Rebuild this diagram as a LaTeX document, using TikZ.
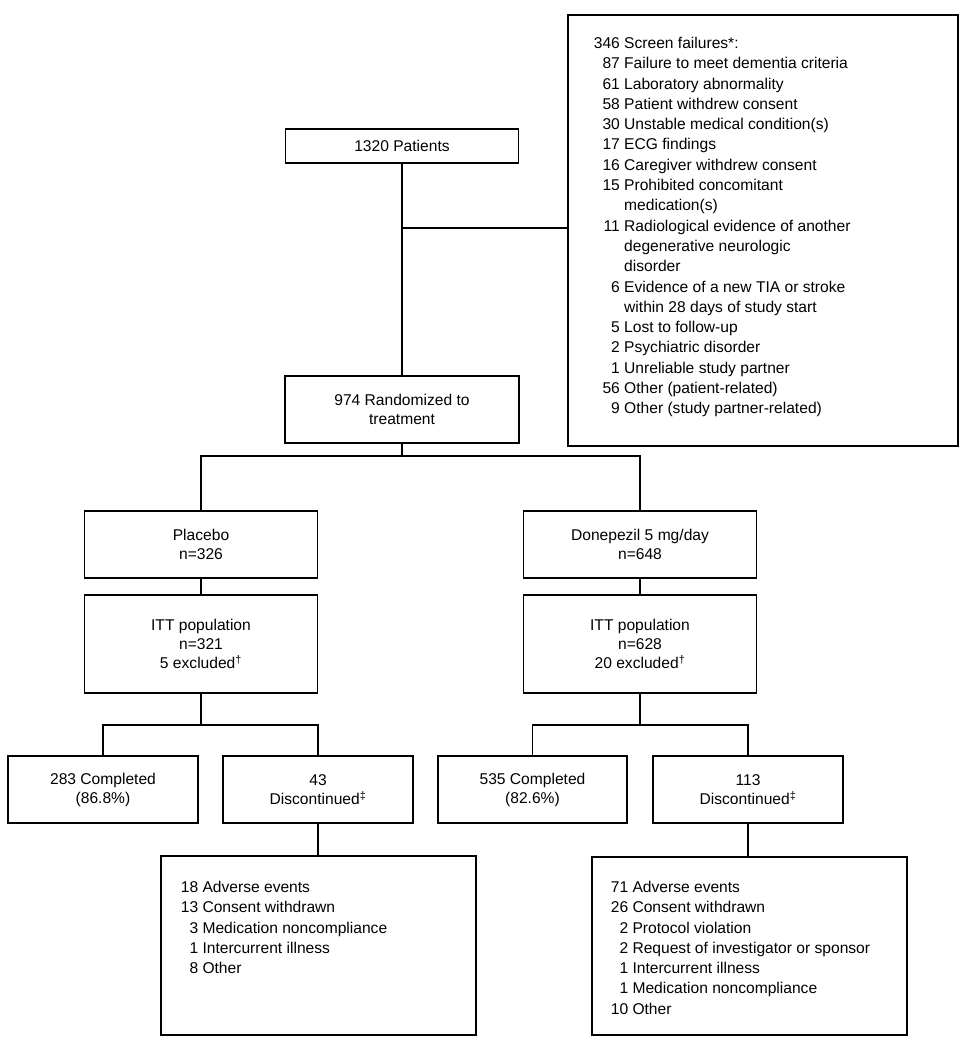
\documentclass[tikz,border=0pt]{standalone}
\usepackage{fontspec}
\setmainfont{Liberation Sans}
\usetikzlibrary{positioning}

\newcommand{\reasonlist}[5]{\parbox[c][#2][t]{#1}{\vspace*{#4}\begin{tabular}{@{\hspace{#3}}r@{\ }l@{}}#5\end{tabular}}}

\begin{document}
\begin{tikzpicture}[x=1pt,y=-1pt,line width=1.7pt,
  box/.style={draw,align=center,inner sep=0pt,font=\fontsize{15.6}{19}\selectfont},
  list/.style={draw,inner sep=0pt,anchor=north west,font=\fontsize{15.6}{20.3}\selectfont}]
\useasboundingbox (0,0) rectangle (968,1050);
\node[box,minimum width=233,minimum height=34] (pat) at (402,146) {1320 Patients};
\node[box,minimum width=234,minimum height=67] (rand) at (402,409.5) {974 Randomized to\\treatment};
\node[list] (scr) at (567,14) {\reasonlist{390pt}{431pt}{26pt}{19.4pt}{%
  346 & Screen failures*:\\
  87 & Failure to meet dementia criteria\\
  61 & Laboratory abnormality\\
  58 & Patient withdrew consent\\
  30 & Unstable medical condition(s)\\
  17 & ECG findings\\
  16 & Caregiver withdrew consent\\
  15 & Prohibited concomitant\\
     & medication(s)\\
  11 & Radiological evidence of another\\
     & degenerative neurologic\\
     & disorder\\
  6 & Evidence of a new TIA or stroke\\
    & within 28 days of study start\\
  5 & Lost to follow-up\\
  2 & Psychiatric disorder\\
  1 & Unreliable study partner\\
  56 & Other (patient-related)\\
  9 & Other (study partner-related)}};
\node[box,minimum width=233,minimum height=67] (plac) at (201,544.5) {Placebo\\n=326};
\node[box,minimum width=233,minimum height=67] (don) at (640,544.5) {Donepezil 5 mg/day\\n=648};
\node[box,minimum width=233,minimum height=98] (itp) at (201,644) {ITT population\\n=321\\5 excluded\textsuperscript{†}};
\node[box,minimum width=233,minimum height=98] (itd) at (640,644) {ITT population\\n=628\\20 excluded\textsuperscript{†}};
\node[box,minimum width=190,minimum height=67] (cpp) at (103,789.5) {283 Completed\\(86.8\%)};
\node[box,minimum width=190,minimum height=67] (dcp) at (318,789.5) {43\\Discontinued\textsuperscript{‡}};
\node[box,minimum width=189,minimum height=67] (cpd) at (532.5,789.5) {535 Completed\\(82.6\%)};
\node[box,minimum width=190,minimum height=67] (dcd) at (748,789.5) {113\\Discontinued\textsuperscript{‡}};
\node[list] (rsp) at (160,855) {\reasonlist{315pt}{179pt}{20pt}{22.4pt}{%
  18 & Adverse events\\
  13 & Consent withdrawn\\
  3 & Medication noncompliance\\
  1 & Intercurrent illness\\
  8 & Other}};
\node[list] (rsd) at (591,856) {\reasonlist{315pt}{178pt}{19pt}{21.4pt}{%
  71 & Adverse events\\
  26 & Consent withdrawn\\
  2 & Protocol violation\\
  2 & Request of investigator or sponsor\\
  1 & Intercurrent illness\\
  1 & Medication noncompliance\\
  10 & Other}};
\coordinate (sbr) at (402,228);
\coordinate (rbr) at (402,456);
\coordinate (pbr) at (201,725);
\coordinate (dbr) at (640,725);
\draw (pat) -- (rand);
\draw (sbr) -- (sbr -| scr.west);
\draw (rand) -- (rbr);
\draw (plac.north) |- (rbr) -| (don.north);
\draw (plac) -- (itp);
\draw (don) -- (itd);
\draw (itp) -- (pbr);
\draw (cpp.north) |- (pbr) -| (dcp.north);
\draw (itd) -- (dbr);
\draw (cpd.north) |- (dbr) -| (dcd.north);
\draw (dcp.south) -- (dcp.south |- rsp.north);
\draw (dcd.south) -- (dcd.south |- rsd.north);
\end{tikzpicture}
\end{document}
